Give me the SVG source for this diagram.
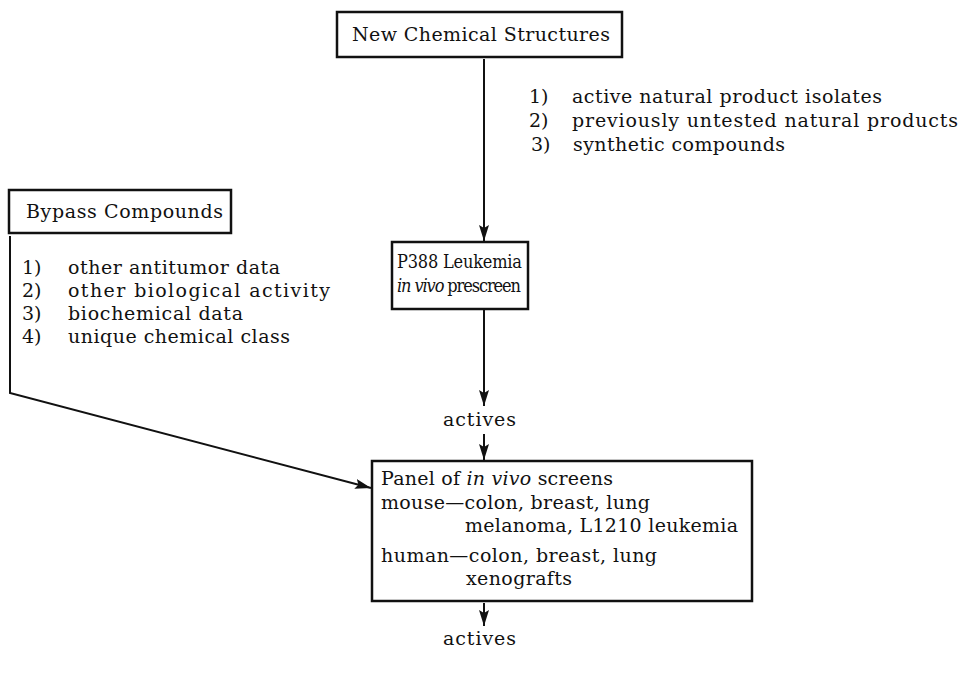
<svg xmlns="http://www.w3.org/2000/svg" width="962" height="675" viewBox="0 0 962 675">
  <style>
    .box { fill: #ffffff; stroke: #111111; stroke-width: 2.5; }
    .line { fill: none; stroke: #111111; stroke-width: 2; }
    text { font-family: "DejaVu Serif", "Liberation Serif", serif; font-size: 19px; fill: #111111; }
    .cond { font-family: "DejaVu Serif Condensed", "DejaVu Serif", serif; font-stretch: condensed; font-size: 18px; }
    .it { font-style: italic; }
  </style>
  <defs>
    <marker id="arrow" viewBox="0 0 16 10" refX="16" refY="5" markerWidth="16" markerHeight="10" markerUnits="userSpaceOnUse" orient="auto">
      <path d="M0,0 L16,5 L0,10 L3,5 Z" fill="#111111"/>
    </marker>
  </defs>
  <rect width="962" height="675" fill="#ffffff"/>

  <g id="connectors">
    <line class="line" x1="484" y1="59" x2="484" y2="241" marker-end="url(#arrow)"/>
    <line class="line" x1="484" y1="310" x2="484" y2="406" marker-end="url(#arrow)"/>
    <line class="line" x1="484" y1="434" x2="484" y2="460" marker-end="url(#arrow)"/>
    <polyline class="line" points="10,236 10,393 371,488" marker-end="url(#arrow)"/>
    <line class="line" x1="484" y1="603" x2="484" y2="626" marker-end="url(#arrow)"/>
  </g>

  <g id="new-chemical-structures">
    <rect class="box" x="337" y="12" width="285" height="45"/>
    <text x="352" y="41" textLength="258" lengthAdjust="spacing">New Chemical Structures</text>
  </g>

  <g id="source-list">
    <text x="529" y="103">1)</text><text x="572" y="103" textLength="310" lengthAdjust="spacing">active natural product isolates</text>
    <text x="529" y="127">2)</text><text x="572" y="127" textLength="386" lengthAdjust="spacing">previously untested natural products</text>
    <text x="531" y="151">3)</text><text x="573" y="151" textLength="212" lengthAdjust="spacing">synthetic compounds</text>
  </g>

  <g id="bypass-compounds">
    <rect class="box" x="9" y="190" width="222" height="43"/>
    <text x="26" y="218" textLength="197" lengthAdjust="spacing">Bypass Compounds</text>
  </g>

  <g id="bypass-list">
    <text x="22" y="274">1)</text><text x="68" y="274" textLength="212" lengthAdjust="spacing">other antitumor data</text>
    <text x="22" y="297">2)</text><text x="68" y="297" textLength="262" lengthAdjust="spacing">other biological activity</text>
    <text x="22" y="320">3)</text><text x="68" y="320" textLength="175" lengthAdjust="spacing">biochemical data</text>
    <text x="22" y="343">4)</text><text x="68" y="343" textLength="222" lengthAdjust="spacing">unique chemical class</text>
  </g>

  <g id="p388-prescreen">
    <rect class="box" x="392" y="242" width="136" height="67"/>
    <text class="cond" x="397" y="268" textLength="125" lengthAdjust="spacing">P388 Leukemia</text>
    <text class="cond" x="397" y="292" textLength="124" lengthAdjust="spacing"><tspan class="it">in vivo</tspan> prescreen</text>
  </g>

  <g id="actives-1">
    <text x="443" y="426" textLength="73" lengthAdjust="spacing">actives</text>
  </g>

  <g id="panel-screens">
    <rect class="box" x="372" y="461" width="380" height="140"/>
    <text x="381" y="485" textLength="232" lengthAdjust="spacing">Panel of <tspan class="it">in vivo</tspan> screens</text>
    <text x="381" y="509" textLength="269" lengthAdjust="spacing">mouse—colon, breast, lung</text>
    <text x="465" y="532" textLength="273" lengthAdjust="spacing">melanoma, L1210 leukemia</text>
    <text x="381" y="562" textLength="276" lengthAdjust="spacing">human—colon, breast, lung</text>
    <text x="466" y="585" textLength="106" lengthAdjust="spacing">xenografts</text>
  </g>

  <g id="actives-2">
    <text x="443" y="645" textLength="73" lengthAdjust="spacing">actives</text>
  </g>
</svg>
